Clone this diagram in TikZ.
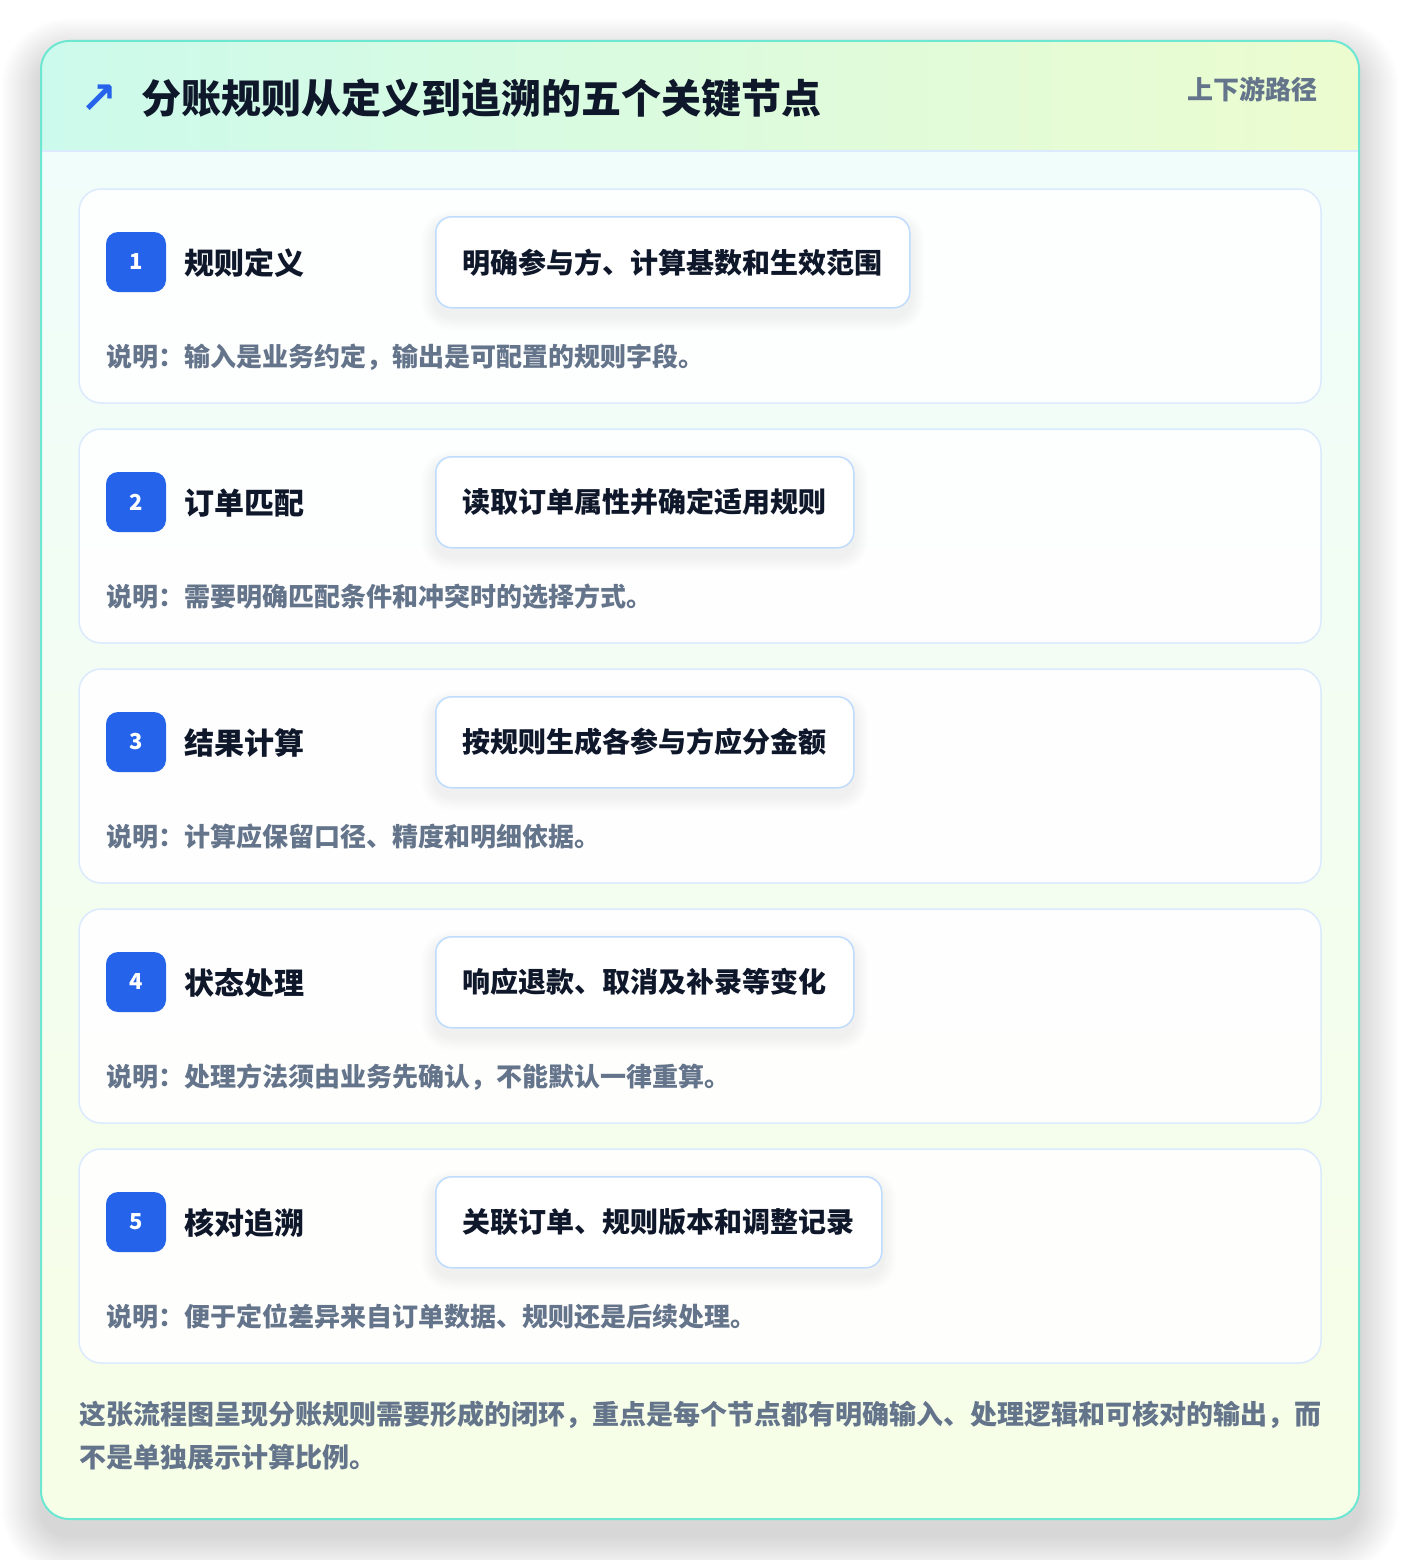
\documentclass[tikz,border=0pt]{standalone}
\usepackage{fontspec}
\setmainfont{Noto Sans CJK SC}
\newfontfamily\arrowfont{DejaVu Sans}
\usetikzlibrary{calc}
\definecolor{headl}{RGB}{204,250,236}
\definecolor{headr}{RGB}{236,252,207}
\definecolor{bodytop}{RGB}{240,253,250}
\definecolor{bodybot}{RGB}{247,254,231}
\definecolor{outerline}{RGB}{110,231,210}
\definecolor{headline}{RGB}{219,234,254}
\definecolor{cardline}{RGB}{219,234,254}
\definecolor{boxline}{RGB}{191,219,254}
\definecolor{badgeblue}{RGB}{37,99,235}
\definecolor{darktext}{RGB}{15,23,42}
\definecolor{greytext}{RGB}{100,116,139}
\pgfdeclarelayer{bottom}
\pgfdeclarelayer{cards}
\pgfdeclarelayer{shad}
\pgfsetlayers{bottom,cards,shad,main}
\tikzset{
  cardbox/.style={draw=cardline, line width=1.5pt, fill=white, fill opacity=0.9, draw opacity=1,
    rounded corners=22pt, minimum width=1242pt, minimum height=214pt, inner sep=0pt},
  badgebox/.style={fill=badgeblue, rounded corners=12pt, minimum width=60pt, minimum height=60pt,
    inner sep=0pt, text=white, font=\bfseries\fontsize{22}{22}\selectfont},
  steptitle/.style={anchor=west, inner sep=0pt, text=darktext, font=\bfseries\fontsize{30}{30}\selectfont},
  actionbox/.style={anchor=north west, draw=boxline, line width=1.5pt, fill=white, rounded corners=16pt,
    minimum height=91pt, inner xsep=27pt, inner ysep=0pt, text=darktext,
    font=\bfseries\fontsize{28}{28}\selectfont},
  desctext/.style={anchor=west, inner sep=0pt, text=greytext, font=\bfseries\fontsize{26}{26}\selectfont},
  foottext/.style={anchor=west, inner sep=0pt, text=greytext, font=\bfseries\fontsize{27}{27}\selectfont},
}
\begin{document}
\begin{tikzpicture}[x=1pt,y=-1pt]
\useasboundingbox (0,0) rectangle (1400,1560);
\begin{pgfonlayer}{bottom}
\fill[white] (0,0) rectangle (1400,1560);
% outer shadow
\foreach \i in {1,...,40}{
  \pgfmathsetmacro{\r}{28+\i}
  \fill[black, opacity=0.0026, rounded corners=\r pt] (41-\i,58-\i) rectangle (1359+\i,1536+\i);
}
% outer card
\begin{scope}
  \clip[rounded corners=28pt] (41,41) rectangle (1359,1519);
  \shade[top color=bodytop, bottom color=bodybot] (41,151) rectangle (1359,1519);
  \shade[left color=headl, right color=headr] (41,40) rectangle (1359,151);
\end{scope}
\draw[headline, line width=1.5pt] (41,151) -- (1359,151);
\draw[outerline, line width=2pt, rounded corners=28pt] (41,41) rectangle (1359,1519);
\end{pgfonlayer}

% header
\node[anchor=west, inner sep=0pt, text=badgeblue, font=\arrowfont\bfseries\fontsize{44}{44}\selectfont] (arrow) at (80,99) {↗};
\node[anchor=west, inner sep=0pt, text=darktext, font=\bfseries\fontsize{40}{40}\selectfont] (title) at (141,98) {分账规则从定义到追溯的五个关键节点};
\node[anchor=east, inner sep=0pt, text=greytext, font=\bfseries\fontsize{26}{26}\selectfont] (tag) at (1318,89) {上下游路径};

% cards
\begin{pgfonlayer}{cards}
  \node[cardbox] (card1) at (700,296) {};
  \node[cardbox] (card2) at (700,536) {};
  \node[cardbox] (card3) at (700,776) {};
  \node[cardbox] (card4) at (700,1016) {};
  \node[cardbox] (card5) at (700,1256) {};
\end{pgfonlayer}

% card 1
\node[badgebox] (n1) at (136,262) {1};
\node[steptitle] (t1) at (184,263) {规则定义};
\node[actionbox] (b1) at (435,216) {明确参与方、计算基数和生效范围};
\node[desctext] (d1) at (106,357) {说明：输入是业务约定，输出是可配置的规则字段。};
% card 2
\node[badgebox] (n2) at (136,502) {2};
\node[steptitle] (t2) at (184,503) {订单匹配};
\node[actionbox] (b2) at (435,456) {读取订单属性并确定适用规则};
\node[desctext] (d2) at (106,597) {说明：需要明确匹配条件和冲突时的选择方式。};
% card 3
\node[badgebox] (n3) at (136,742) {3};
\node[steptitle] (t3) at (184,743) {结果计算};
\node[actionbox] (b3) at (435,696) {按规则生成各参与方应分金额};
\node[desctext] (d3) at (106,837) {说明：计算应保留口径、精度和明细依据。};
% card 4
\node[badgebox] (n4) at (136,982) {4};
\node[steptitle] (t4) at (184,983) {状态处理};
\node[actionbox] (b4) at (435,936) {响应退款、取消及补录等变化};
\node[desctext] (d4) at (106,1077) {说明：处理方法须由业务先确认，不能默认一律重算。};
% card 5
\node[badgebox] (n5) at (136,1222) {5};
\node[steptitle] (t5) at (184,1223) {核对追溯};
\node[actionbox] (b5) at (435,1176) {关联订单、规则版本和调整记录};
\node[desctext] (d5) at (106,1317) {说明：便于定位差异来自订单数据、规则还是后续处理。};

% box shadows
\begin{pgfonlayer}{shad}
  \foreach \b in {b1,b2,b3,b4,b5}{
    \foreach \k in {1,...,14}{
      \pgfmathsetmacro{\rr}{16+\k}
      \fill[black, opacity=0.0045, rounded corners=\rr pt]
        ($(\b.north west)+(-\k,8-\k)$) rectangle ($(\b.south east)+(\k,8+\k)$);
    }
  }
\end{pgfonlayer}

% footer
\node[foottext] (f1) at (79,1415) {这张流程图呈现分账规则需要形成的闭环，重点是每个节点都有明确输入、处理逻辑和可核对的输出，而};
\node[foottext] (f2) at (79,1457) {不是单独展示计算比例。};
\end{tikzpicture}
\end{document}
